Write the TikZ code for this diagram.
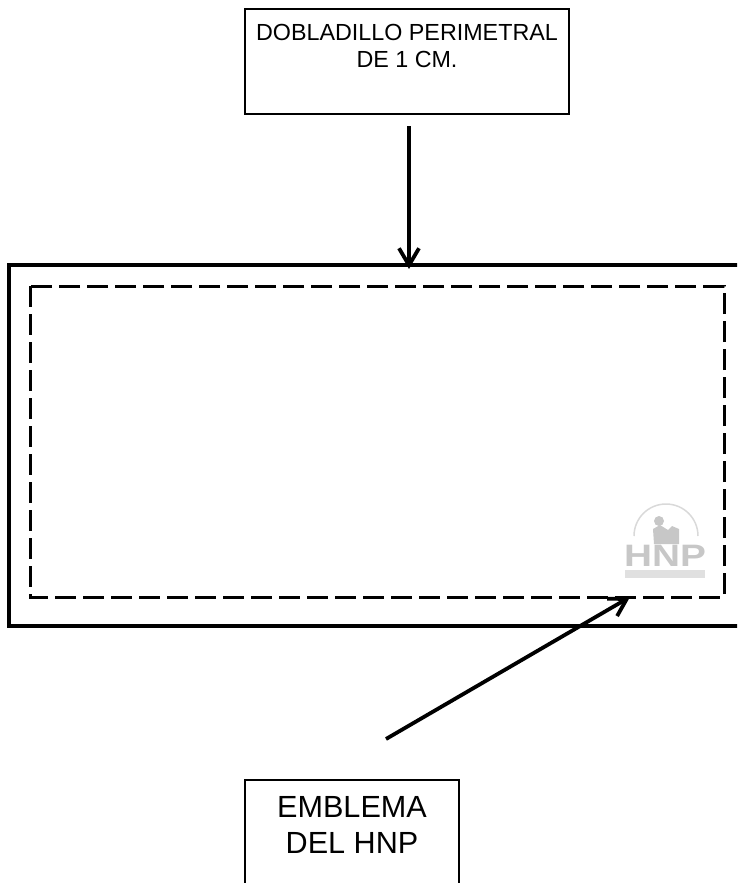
\documentclass[tikz,border=0pt]{standalone}
\usepackage{fontspec}
\setmainfont{Liberation Sans}
\usepackage{tikz}
\usetikzlibrary{arrows.meta,positioning}

\begin{document}
\begin{tikzpicture}[x=1pt,y=-1pt,
block/.style = {rectangle, draw=black, line width=1.8pt, align=center, inner sep=0pt},
small/.style = {font=\fontsize{23.3}{27}\selectfont},
big/.style = {font=\fontsize{30.6}{36}\selectfont},
hem/.style = {draw, line width=3.3pt},
seam/.style = {draw, line width=3pt, dash pattern=on 21pt off 7pt},
logo/.style = {fill=black!22!white},
line/.style = {draw, line width=3.8pt, -{Straight Barb[length=17pt,width=20pt,line width=3.8pt]}}]

\clip (0,0) rectangle (737,883);

\node [block, small, minimum width=324pt, minimum height=105pt] (dobladillo) at (407,61.5)
	{DOBLADILLO PERIMETRAL\\DE 1 CM.\\[4pt] ~};
\node [block, big, minimum width=214pt, minimum height=126pt] (emblema) at (352,843)
	{EMBLEMA\\DEL HNP\\ ~};

% tela
\coordinate (topright) at (740,265);
\coordinate (botleft) at (9,626);
\coordinate (botright) at (740,626);
\path [hem] (topright) -| (botleft) -- (botright);
\coordinate (seamA) at (30,286);
\coordinate (seamB) at (724,597);
\path [seam] (seamA) rectangle (seamB);

% emblema
\node [inner sep=0pt, text=black!22!white, font=\bfseries\fontsize{31}{31}\selectfont] (hnp) at (665,556)
	{\scalebox{1.25}[1]{HNP}};
\draw [black!15!white, line width=1.5pt] (634,536) arc [start angle=180, end angle=0, radius=32pt];
\fill [logo] (659,521) circle [radius=5pt];
\fill [logo] (653,529) -- (660,525) -- (668,530) -- (672,526) -- (679,529) -- (679,544) -- (654,544) -- cycle;
\node [fill=black!12!white, inner sep=0pt, minimum width=80pt, minimum height=8pt, below=3pt of hnp] (strip) {};

% flechas
\coordinate (fromdobladillo) at (409,126);
\coordinate (tohem) at (409,269);
\coordinate (fromemblema) at (386,739);
\coordinate (tologo) at (630,597);
\begin{scope}[every path/.style=line]
\path (fromdobladillo) -- (tohem);
\path (fromemblema) -- (tologo);
\end{scope}

\end{tikzpicture}
\end{document}
